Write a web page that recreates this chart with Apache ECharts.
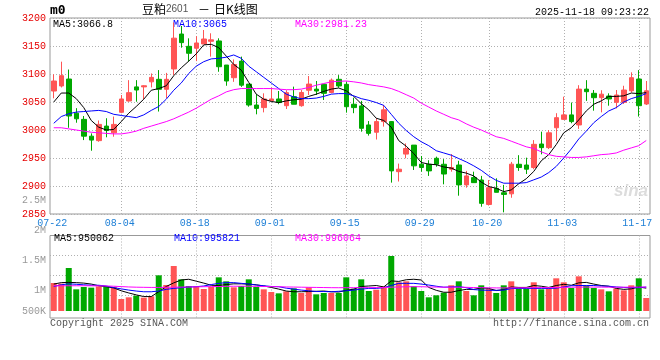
<!DOCTYPE html>
<html><head><meta charset="utf-8">
<script src="https://cdn.jsdelivr.net/npm/echarts@6/dist/echarts.min.js"></script>
<style>html,body{margin:0;padding:0;background:#fff}#c{width:660px;height:360px}</style>
</head><body><div id="c"></div>
<script>
const dates = ['07-22','07-23','07-24','07-25','07-28','07-29','07-30','07-31',
 '08-01','08-04','08-05','08-06','08-07','08-08','08-11','08-12','08-13','08-14','08-15',
 '08-18','08-19','08-20','08-21','08-22','08-25','08-26','08-27','08-28','08-29',
 '09-01','09-02','09-03','09-04','09-05','09-08','09-09','09-10','09-11','09-12',
 '09-15','09-16','09-17','09-18','09-19','09-22','09-23','09-24','09-25','09-26',
 '09-29','09-30','10-09','10-10','10-13','10-14','10-15','10-16','10-17',
 '10-20','10-21','10-22','10-23','10-24','10-27','10-28','10-29','10-30','10-31',
 '11-03','11-04','11-05','11-06','11-07','11-10','11-11','11-12','11-13','11-14','11-17','11-18'];
const xTickLabels = ['07-22','08-04','08-18','09-01','09-15','09-29','10-20','11-03','11-17'];

const opens = [3069.6,3078.6,3091,3030,3019,2989,2981,3007,2995,3031.6, 3051.8,3077,3077,3086,3090.5,3072.7,3109,3171.4,3149.4,3146, 3153.6,3158.4,3159,3116,3093.4,3123,3082,3044.6,3040,3052.4, 3055.4,3043.4,3059.5,3043.4,3071,3073,3081.6,3067,3090.5,3081.6, 3046,3043,3009,2996,3015,3015,2925.6,2957,2973,2939, 2938.8,2949.5,2938.8,2930,2937.5,2902,2915,2910.7,2867,2895.8, 2888,2886,2938.8,2937.5,2933,2975,2968.5,3004,3019,3027, 3009,3073,3065.5,3057.7,3060.7,3049.4,3049.4,3070,3091,3046.4];
const closes = [3087.5,3097,3025,3020,2989,2982,3010,2999,3010,3055.4, 3066.7,3071.4,3079,3094,3072.7,3090.5,3164,3156,3137,3155.4, 3162.5,3161,3113,3087.5,3117,3080,3044.6,3038.6,3055.4,3055.4, 3049,3066.7,3046,3067,3082,3069.6,3065.5,3089,3078.6,3041.6, 3040,3003,2994,3015,3036,2927,2930,2967,2936,2933, 2927,2938.8,2921.4,2933,2902,2918,2906,2869,2897,2888.7, 2885,2939,2933,2930,2974.4,2968.5,2995,3022,3027,3015, 3073,3068.4,3057.7,3064,3055.4,3062.5,3071.4,3093.4,3043.4,3070];
const lows = [3056.6,3076,3004,3013,2982,2963,2979,2987,2988,3030, 3050.5,3050.5,3055,3076,3033,3057,3098,3147,3122,3123, 3153.6,3131,3104,3079,3086,3077,3041.6,3028,3031.5,3052.4, 3046,3037.5,3046,3041.6,3062.5,3062.5,3053.6,3065.5,3075.6,3031, 3030,2997,2990,2983,3006,2906,2908,2949.5,2928.6,2925.6, 2918,2934.5,2903,2925.6,2882.7,2897,2906,2863,2865,2888.7, 2853,2879,2927,2921.4,2930,2956.6,2966,2980,3018,3012, 3002,3052,3034.5,3031.5,3043.4,3038.6,3046.4,3067,3024,3044.6];
const highs = [3099.4,3122,3108,3039,3025,2994,3017,3021,3024,3062.5, 3089,3089,3080,3101,3107,3102,3192,3185.7,3163.7,3167.5, 3178.6,3172.7,3163.7,3116,3126,3131,3082,3064,3065.5,3075.6, 3069.6,3071,3077.4,3071.4,3096.4,3087.5,3081.6,3092,3098,3086, 3057.7,3052,3016,3021,3044.6,3016,2940,2976,2973,2953.6, 2946,2952.4,2948,2957,2945,2927,2925.6,2918,2910.7,2913.7, 2902,2943,2955,2950.6,2982,2997,3000,3030,3059.5,3049, 3080,3089,3071.4,3071,3065.5,3071.4,3079,3103,3107,3087.5];

const ma5 = [3050,3066,3066,3056,3040,3017,3005,3000,3001,3015, 3030,3042,3055,3071,3074,3079,3097,3111,3123,3136, 3152,3153,3147,3132,3117,3107,3085,3064,3055,3051, 3049,3052,3054,3055,3060,3064,3069,3073,3075,3070, 3060,3047,3036,3021,3017,3005,2981,2971,2958,2942, 2939,2938,2934,2932,2926,2923,2918,2907,2899,2896, 2890,2893,2904,2913,2926,2945,2956,2974,2995,3004, 3018,3034,3046,3052,3060,3060,3061,3066,3065,3066.8];
const ma10 = [3012,3024,3029,3032,3033,3034,3035,3033,3028,3026, 3024,3022,3027,3035,3042,3055,3071,3084,3101,3114, 3122,3127,3128,3130,3134,3128,3114,3104,3094,3084, 3074,3064,3059,3056,3056,3057,3060,3064,3065,3065, 3061,3056,3053,3049,3044,3028,3012,2999,2988,2979, 2972,2963,2959,2955,2949,2943,2936,2928,2918,2910, 2905,2905,2905,2906,2911,2916,2924,2935,2950,2966, 2984,2998,3013,3024,3034,3040,3050,3056,3060,3065];
const ma30 = [3004,3004,3002,3000,2998,2996,2995,2994,2993,2993, 2995,2998,3003,3007,3011,3015,3020,3026,3032,3039, 3047,3055,3061,3068,3072,3074,3074,3074,3074,3074, 3073,3072,3072,3073,3076,3080,3083,3086,3087,3087.5, 3086,3084,3081,3079,3077,3074,3069,3063,3057,3048, 3041,3034,3028,3022,3018,3011,3005,3000,2994,2988, 2985,2980,2975,2970,2967,2961,2956,2953,2952,2951, 2951,2952,2954,2956,2957,2959,2964,2968,2972,2981.23];

const volumes = [1165000,1137000,1789000,901000,998000,971000,1026000,1026000,998000,499000, 569000,638000,555000,610000,1484000,1082000,1872000,1317000,1040000,1026000, 915000,998000,1400000,1234000,985000,1040000,1317000,998000,901000,790000, 735000,818000,943000,749000,985000,693000,749000,749000,749000,1400000, 929000,1317000,832000,887000,1026000,2288000,1193000,1234000,1026000,832000, 569000,652000,763000,1068000,1234000,832000,652000,1068000,915000,749000, 1068000,1234000,929000,929000,1193000,901000,929000,1359000,1193000,957000, 1442000,1054000,957000,901000,818000,929000,860000,1068000,1359000,541000];
const volMa5 = [1120000,1180000,1190000,1180000,1160000,1120000,1050000,1010000,960000,840000, 750000,670000,600000,600000,800000,1020000,1170000,1290000,1320000,1240000, 1160000,1070000,1060000,1100000,1130000,1130000,1120000,1090000,1040000,980000, 910000,830000,800000,800000,810000,820000,830000,800000,790000,860000, 910000,1020000,1040000,1060000,1000000,1250000,1230000,1300000,1320000,1290000, 980000,860000,780000,780000,850000,900000,900000,960000,940000,850000, 890000,1000000,980000,980000,1060000,1030000,980000,1060000,1110000,1070000, 1170000,1190000,1120000,1060000,1030000,940000,900000,920000,1000000,950062];
const volMa10 = [1020000,1090000,1130000,1110000,1090000,1070000,1070000,1040000,970000,920000, 870000,830000,800000,800000,830000,900000,940000,970000,1000000,1010000, 1040000,1100000,1150000,1180000,1180000,1150000,1120000,1080000,1050000,1020000, 1010000,950000,910000,870000,840000,810000,810000,800000,820000,840000, 870000,910000,940000,940000,970000,1060000,1150000,1150000,1150000,1120000, 1080000,1030000,990000,1000000,1010000,970000,890000,870000,860000,860000, 870000,930000,940000,940000,940000,940000,940000,950000,1000000,1050000, 1060000,1060000,1060000,1040000,1030000,1000000,980000,970000,970000,995821];
const volMa30 = [1045000,1048000,1050000,1050000,1050000,1048000,1045000,1040000,1030000,1015000, 1000000,990000,985000,980000,980000,985000,990000,995000,1000000,1005000, 1010000,1015000,1020000,1025000,1030000,1030000,1030000,1025000,1020000,1015000, 1010000,1000000,995000,990000,985000,980000,975000,970000,968000,970000, 970000,972000,972000,975000,978000,990000,1000000,1008000,1010000,1010000, 1000000,995000,990000,990000,990000,985000,975000,970000,965000,960000, 960000,962000,965000,968000,970000,972000,975000,980000,985000,990000, 995000,995000,995000,993000,990000,990000,990000,992000,995000,996064];

const UP = '#ff5555', DOWN = '#00a800';
const MONO = '"Liberation Mono","DejaVu Sans Mono",monospace';
const CJK = '"Noto Sans CJK SC",sans-serif';
const GRID_C = '#b0b0b0', FRAME_C = '#999999';
const last = a => a[a.length - 1];

const candleData = dates.map((d, i) => [opens[i], closes[i], lows[i], highs[i]]);
const volData = volumes.map((v, i) => ({ value: v, itemStyle: { color: closes[i] >= opens[i] ? UP : DOWN } }));
const isTick = (i, v) => xTickLabels.indexOf(v) >= 0;
const isLine = (i, v) => i > 0 && xTickLabels.indexOf(v) >= 0;
const T = 'rgba(0,0,0,0)';

const chart = echarts.init(document.getElementById('c'));
const hiddenCat = (gi) => ({ type: 'category', gridIndex: gi, data: dates, boundaryGap: true,
  axisLine: { show: false }, axisTick: { show: false }, axisLabel: { show: false }, splitLine: { show: false } });

chart.setOption({
  animation: false,
  backgroundColor: '#fff',
  textStyle: { fontFamily: MONO },
  grid: [
    { left: 50, top: 18, width: 600, height: 196, show: true, borderColor: FRAME_C, borderWidth: 1, backgroundColor: T },
    { left: 50, top: 235.5, width: 600, height: 75.5 },
    { left: 50, top: 235.5, width: 600, height: 82.5, show: true, borderColor: FRAME_C, borderWidth: 1, backgroundColor: T },
    { left: 50, top: 200, width: 600, height: 150 }
  ],
  xAxis: [
    { type: 'category', gridIndex: 0, data: dates, boundaryGap: true,
      axisLine: { show: false }, axisTick: { show: false },
      axisLabel: { interval: isTick, color: '#1d7fd6', fontFamily: MONO, fontSize: 10, margin: 4, padding: [0, 3, 0, 0] },
      splitLine: { show: true, interval: isLine, alignWithLabel: true, lineStyle: { color: GRID_C, type: [1, 2], width: 1 } } },
    hiddenCat(1),
    Object.assign(hiddenCat(2), { splitLine: { show: true, interval: isLine, alignWithLabel: true, lineStyle: { color: GRID_C, type: [1, 2], width: 1 } } }),
    hiddenCat(3)
  ],
  yAxis: [
    { type: 'value', gridIndex: 0, min: 2850, max: 3200, interval: 50,
      axisLine: { show: false }, axisTick: { show: false },
      axisLabel: { color: '#e60000', fontFamily: MONO, fontSize: 10, margin: 4, padding: [0, 0, 3, 0], formatter: v => String(v) },
      splitLine: { show: true, lineStyle: { color: GRID_C, type: [1, 2], width: 1 } } },
    { type: 'value', gridIndex: 1, min: 0, max: 3140000, show: false, splitLine: { show: false } },
    { type: 'value', gridIndex: 2, min: 0, max: 4.125, interval: 1, inverse: true,
      axisLine: { show: false }, axisTick: { show: false }, axisLabel: { show: false },
      splitLine: { show: true, lineStyle: { color: [T, GRID_C, GRID_C, GRID_C, T, T], type: [1, 2], width: 1 } } },
    { type: 'value', gridIndex: 3, min: 0, max: 2500000, interval: 500000,
      axisLine: { show: false }, axisTick: { show: false }, splitLine: { show: false },
      axisLabel: { color: '#999', fontFamily: MONO, fontSize: 10, margin: 4, showMinLabel: false,
        formatter: v => v === 0 ? '' : (v >= 1e6 ? (v / 1e6) + 'M' : '{lo|' + (v / 1e3) + 'K}'),
        rich: { lo: { color: '#999', fontFamily: MONO, fontSize: 10, padding: [0, 0, 18, 0] } } } }
  ],
  series: [
    { type: 'candlestick', xAxisIndex: 0, yAxisIndex: 0, data: candleData, barWidth: 5,
      itemStyle: { color: UP, color0: DOWN, borderColor: UP, borderColor0: DOWN, borderWidth: 1 } },
    { type: 'line', xAxisIndex: 0, yAxisIndex: 0, data: ma5, symbol: 'none', lineStyle: { color: '#000', width: 1 } },
    { type: 'line', xAxisIndex: 0, yAxisIndex: 0, data: ma10, symbol: 'none', lineStyle: { color: '#0000ff', width: 1 } },
    { type: 'line', xAxisIndex: 0, yAxisIndex: 0, data: ma30, symbol: 'none', lineStyle: { color: '#ff00ff', width: 1 } },
    { type: 'bar', xAxisIndex: 1, yAxisIndex: 1, data: volData, barWidth: 6 },
    { type: 'line', xAxisIndex: 1, yAxisIndex: 1, data: volMa5, symbol: 'none', lineStyle: { color: '#000', width: 1 } },
    { type: 'line', xAxisIndex: 1, yAxisIndex: 1, data: volMa10, symbol: 'none', lineStyle: { color: '#0000ff', width: 1 } },
    { type: 'line', xAxisIndex: 1, yAxisIndex: 1, data: volMa30, symbol: 'none', lineStyle: { color: '#ff00ff', width: 1 } }
  ],
  graphic: [
    { type: 'text', x: 50, y: 11, style: { text: 'm0', fill: '#000', font: 'bold 13px "DejaVu Sans Mono"', align: 'left', verticalAlign: 'middle' } },
    { type: 'text', x: 142, y: 9, style: { text: '{a|豆粕}{b|2601}', align: 'left', verticalAlign: 'middle',
        rich: { a: { fontFamily: CJK, fontSize: 12, fill: '#000', color: '#000' }, b: { fontFamily: '"Liberation Sans",sans-serif', fontSize: 10, color: '#555', fill: '#555' } } } },
    { type: 'text', x: 204, y: 9, style: { text: '－', fill: '#000', font: '12px ' + CJK, align: 'center', verticalAlign: 'middle' } },
    { type: 'text', x: 214, y: 9, style: { text: '日K线图', fill: '#000', font: '12px ' + CJK, align: 'left', verticalAlign: 'middle' } },
    { type: 'text', x: 649, y: 12, style: { text: '2025-11-18 09:23:22', fill: '#000', font: '10px ' + MONO, align: 'right', verticalAlign: 'middle' } },
    { type: 'text', x: 53, y: 24, style: { text: 'MA5:' + last(ma5), fill: '#000', font: '10px ' + MONO, align: 'left', verticalAlign: 'middle' } },
    { type: 'text', x: 173, y: 24, style: { text: 'MA10:' + last(ma10), fill: '#0000ff', font: '10px ' + MONO, align: 'left', verticalAlign: 'middle' } },
    { type: 'text', x: 295, y: 24, style: { text: 'MA30:' + last(ma30), fill: '#ff00ff', font: '10px ' + MONO, align: 'left', verticalAlign: 'middle' } },
    { type: 'text', x: 54, y: 238.5, style: { text: 'MA5:' + last(volMa5), fill: '#000', font: '10px ' + MONO, align: 'left', verticalAlign: 'middle' } },
    { type: 'text', x: 174, y: 238.5, style: { text: 'MA10:' + last(volMa10), fill: '#0000ff', font: '10px ' + MONO, align: 'left', verticalAlign: 'middle' } },
    { type: 'text', x: 295, y: 238.5, style: { text: 'MA30:' + last(volMa30), fill: '#ff00ff', font: '10px ' + MONO, align: 'left', verticalAlign: 'middle' } },
    { type: 'text', x: 50, y: 323.5, style: { text: 'Copyright 2025 SINA.COM', fill: '#555', font: '10px ' + MONO, align: 'left', verticalAlign: 'middle' } },
    { type: 'text', x: 649, y: 323.5, style: { text: 'http://finance.sina.com.cn', fill: '#555', font: '10px ' + MONO, align: 'right', verticalAlign: 'middle' } },
    { type: 'text', x: 648, y: 191, z: 1, style: { text: 'sina', fill: '#dcdcdc', font: 'italic bold 17px "Liberation Sans"', align: 'right', verticalAlign: 'middle' } }
  ]
});
</script>
</body></html>
